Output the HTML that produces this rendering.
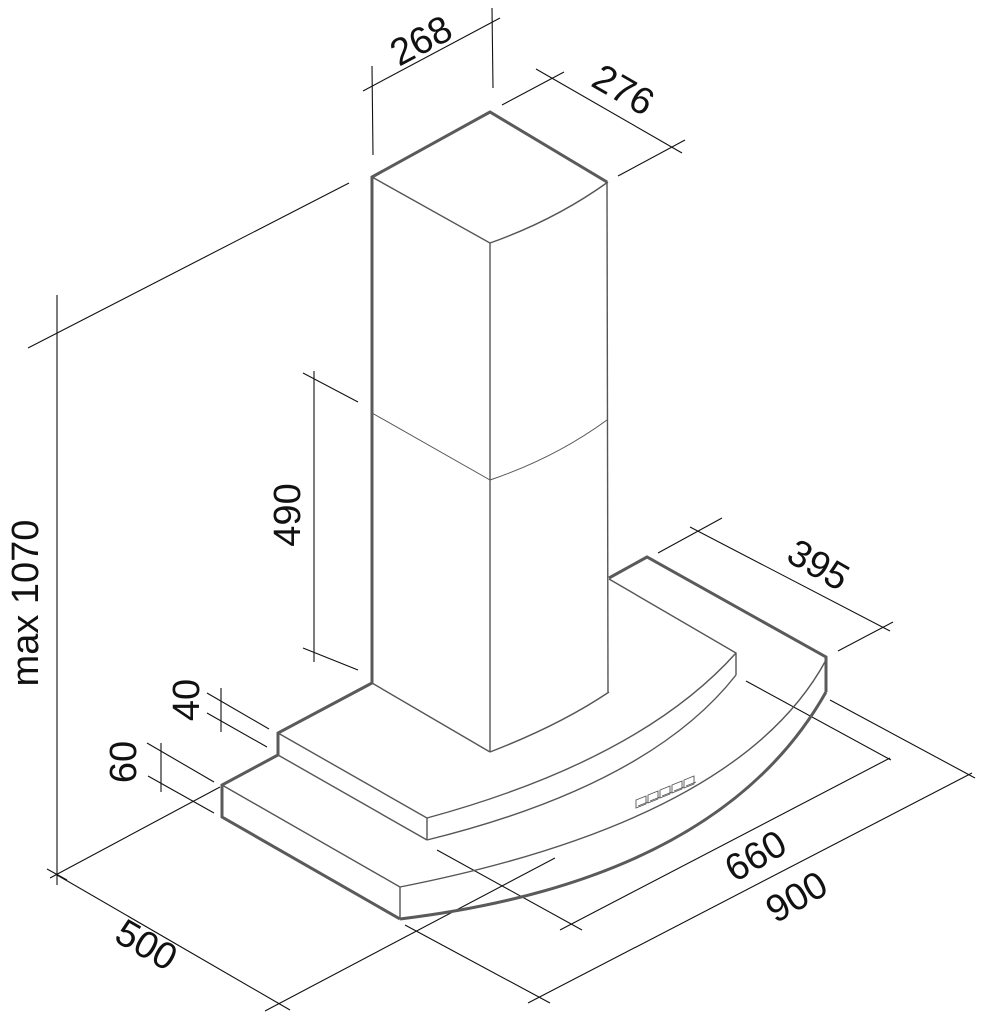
<!DOCTYPE html>
<html><head><style>html,body{margin:0;padding:0;background:#fff}svg{display:block}</style></head>
<body>
<svg width="982" height="1024" viewBox="0 0 982 1024" xmlns="http://www.w3.org/2000/svg">
<g fill="none" stroke="#111" stroke-width="1.1">
<!-- 268 -->
<line x1="372" y1="66" x2="373" y2="155"/>
<line x1="492" y1="8" x2="493" y2="88"/>
<line x1="363" y1="91" x2="500" y2="18"/>
<!-- 276 -->
<line x1="536" y1="69" x2="682" y2="153"/>
<line x1="502" y1="105" x2="564" y2="72"/>
<line x1="618" y1="176" x2="685" y2="140"/>
<!-- long / max 1070 -->
<line x1="28" y1="348" x2="349" y2="183"/>
<line x1="57" y1="295" x2="57" y2="885"/>
<line x1="50" y1="878" x2="220" y2="787"/>
<line x1="47" y1="869" x2="67" y2="880"/>
<!-- 490 -->
<line x1="314" y1="371" x2="314" y2="662"/>
<line x1="303" y1="373" x2="358" y2="402"/>
<line x1="303" y1="648" x2="358" y2="670"/>
<!-- 40 -->
<line x1="221" y1="688" x2="221" y2="732"/>
<line x1="207" y1="693" x2="269" y2="729"/>
<line x1="207" y1="713" x2="267" y2="747"/>
<!-- 60 -->
<line x1="161" y1="743" x2="161" y2="792"/>
<line x1="147" y1="743" x2="214" y2="782"/>
<line x1="148" y1="776" x2="214" y2="813"/>
<!-- 500 -->
<line x1="57" y1="875" x2="290" y2="1010"/>
<line x1="265" y1="1011" x2="555" y2="858"/>
<!-- 900 -->
<line x1="405" y1="925" x2="550" y2="1003"/>
<line x1="528" y1="1003" x2="972" y2="773"/>
<line x1="830" y1="700" x2="975" y2="778"/>
<!-- 660 -->
<line x1="437" y1="850" x2="582" y2="930"/>
<line x1="560" y1="930" x2="890" y2="758"/>
<line x1="746" y1="681" x2="891" y2="760"/>
<!-- 395 -->
<line x1="658" y1="553" x2="722" y2="518"/>
<line x1="690" y1="527" x2="890" y2="631"/>
<line x1="838" y1="651" x2="893" y2="622"/>
</g>
<g fill="none" stroke="#555" stroke-width="1.4">
<!-- chimney -->
<polyline points="372,177 490,243 490,752"/>
<path d="M490,243 Q555,220 608,182"/>
<path d="M372,413 L490,480 Q555,458 607,420" stroke-width="1"/>
<line x1="607" y1="182" x2="608" y2="692"/>
<line x1="372" y1="683" x2="490" y2="752"/>
<path d="M490,752 Q560,725 609,692"/>
<!-- canopy inner lines -->
<polyline points="609,579 736,653 736,675"/>
<polyline points="278,733 427,818 427,840"/>
<line x1="278" y1="755" x2="427" y2="840"/>
<path d="M427,818 Q640,760 736,653"/>
<path d="M427,840 Q650,785 736,675"/>
<polyline points="222,785 400,887 400,919"/>
<path d="M400,887 Q740,820 826,660"/>
<!-- controls -->
<g stroke-width="0.9">
<path d="M636,800 l10,-4 v8 l-10,4 z M648,795 l10,-4 v8 l-10,4 z M660,790 l10,-4 v8 l-10,4 z M672,785 l10,-4 v8 l-10,4 z M684,780 l10,-4 v8 l-10,4 z"/>
<path d="M638,806 l10,-4 M650,801 l10,-4 M662,796 l10,-4 M674,791 l10,-4 M686,786 l10,-4"/>
</g>
</g>
<g fill="none" stroke="#5a5a5a" stroke-width="3" stroke-linejoin="miter">
<polyline points="372,683 372,177 490,112 607,182"/>
<polyline points="372,683 278,733 278,755 222,785 222,817 400,919"/>
<path d="M400,919 Q720,880 826,692"/>
<polyline points="609,578 647,557 826,657 826,692"/>
</g>
<g font-family="Liberation Sans, sans-serif" font-size="38" fill="#111">
<text transform="translate(427,52) rotate(-28)" text-anchor="middle">268</text>
<text transform="translate(617,101) rotate(30)" text-anchor="middle">276</text>
<text transform="translate(38,603) rotate(-90)" text-anchor="middle">max 1070</text>
<text transform="translate(300,515) rotate(-90)" text-anchor="middle">490</text>
<text transform="translate(199,700) rotate(-90)" text-anchor="middle">40</text>
<text transform="translate(136,762) rotate(-90)" text-anchor="middle">60</text>
<text transform="translate(140,956) rotate(30)" text-anchor="middle">500</text>
<text transform="translate(812,576) rotate(30)" text-anchor="middle">395</text>
<text transform="translate(762,867) rotate(-30)" text-anchor="middle">660</text>
<text transform="translate(803,908) rotate(-30)" text-anchor="middle">900</text>
</g>
</svg>
</body></html>
